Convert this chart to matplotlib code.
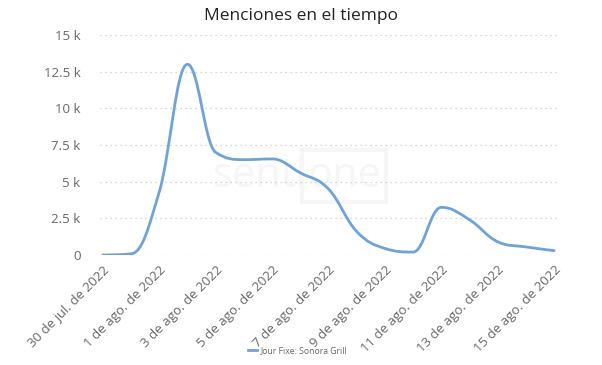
import numpy as np
import matplotlib
matplotlib.use('Agg')
import matplotlib.pyplot as plt
from matplotlib.path import Path
from matplotlib.patches import PathPatch
from matplotlib.lines import Line2D

plt.rcParams['font.family'] = ['Open Sans', 'DejaVu Sans']

# datos diarios (30 jul - 15 ago 2022)
dias = ['30 de jul. de 2022', '31 de jul. de 2022', '1 de ago. de 2022', '2 de ago. de 2022',
        '3 de ago. de 2022', '4 de ago. de 2022', '5 de ago. de 2022', '6 de ago. de 2022',
        '7 de ago. de 2022', '8 de ago. de 2022', '9 de ago. de 2022', '10 de ago. de 2022',
        '11 de ago. de 2022', '12 de ago. de 2022', '13 de ago. de 2022', '14 de ago. de 2022',
        '15 de ago. de 2022']
menciones = [0, 80, 4300, 13000, 7000, 6500, 6550, 5600, 4500, 1600, 450, 200, 3250, 2400, 900, 550, 300]
serie = 'Jour Fixe: Sonora Grill'
y_ticks = [0, 2500, 5000, 7500, 10000, 12500, 15000]
y_labels = ['0', '2.5 k', '5 k', '7.5 k', '10 k', '12.5 k', '15 k']

color_linea = '#6fa3d8'


def spline_path(xs, ys, smoothing=1.5):
    """curva tipo spline (bezier) que pasa por cada punto"""
    n = len(xs)
    denom = smoothing + 1
    left = [None] * n
    right = [None] * n
    for i in range(n):
        if i == 0 or i == n - 1:
            left[i] = (xs[i], ys[i])
            right[i] = (xs[i], ys[i])
            continue
        px, py = xs[i], ys[i]
        lx, ly = xs[i - 1], ys[i - 1]
        nx, ny = xs[i + 1], ys[i + 1]
        lcx = (smoothing * px + lx) / denom
        lcy = (smoothing * py + ly) / denom
        rcx = (smoothing * px + nx) / denom
        rcy = (smoothing * py + ny) / denom
        corr = (rcy - lcy) * (rcx - px) / (rcx - lcx) + py - rcy
        lcy += corr
        rcy += corr
        if lcy > ly and lcy > py:
            lcy = max(ly, py)
            rcy = 2 * py - lcy
        elif lcy < ly and lcy < py:
            lcy = min(ly, py)
            rcy = 2 * py - lcy
        if rcy > ny and rcy > py:
            rcy = max(ny, py)
            lcy = 2 * py - rcy
        elif rcy < ny and rcy < py:
            rcy = min(ny, py)
            lcy = 2 * py - rcy
        left[i] = (lcx, lcy)
        right[i] = (rcx, rcy)
    verts = [(xs[0], ys[0])]
    codes = [Path.MOVETO]
    for i in range(1, n):
        verts += [right[i - 1], left[i], (xs[i], ys[i])]
        codes += [Path.CURVE4] * 3
    return Path(verts, codes)


fig = plt.figure(figsize=(6.02, 3.65), dpi=100)
ax = fig.add_axes([100 / 602, 110 / 365, 457 / 602, 220 / 365])

x = np.arange(len(menciones))

# marca de agua
ax.text(0.35, 0.36, 'senti', transform=ax.transAxes, fontsize=30, color='#f6f6f6',
        ha='center', va='center', zorder=0)
ax.text(0.535, 0.36, 'one', transform=ax.transAxes, fontsize=30, color='#f6f6f6',
        ha='center', va='center', zorder=0,
        bbox=dict(boxstyle='square,pad=0.12', fc='none', ec='#f6f6f6', lw=3))

ax.add_patch(PathPatch(spline_path(x, menciones), fc='none', ec=color_linea, lw=2,
                       capstyle='round', joinstyle='round', zorder=3))

ax.set_xlim(-0.1, len(menciones) - 0.9)
ax.set_ylim(0, 15000)
ax.set_yticks(y_ticks)
ax.set_yticklabels(y_labels)
ax.set_xticks(x[::2])
ax.set_xticklabels(dias[::2], rotation=45, ha='right', rotation_mode='anchor')

ax.grid(axis='y', linestyle=(0, (1, 3)), color='#c8c8c8', lw=0.9)
for s in ax.spines.values():
    s.set_visible(False)
ax.tick_params(axis='both', length=0, colors='#666666', labelsize=9.5)
ax.tick_params(axis='y', pad=14)
ax.tick_params(axis='x', pad=6)

fig.text(0.5, 0.955, 'Menciones en el tiempo', ha='center', va='center', fontsize=12.5,
         color='#222222')

leg = fig.legend(handles=[Line2D([], [], color=color_linea, lw=2)], labels=[serie],
                 loc='center', bbox_to_anchor=(0.495, 0.04), frameon=False, fontsize=6.2,
                 handlelength=1.0, handletextpad=0.5)
for t in leg.get_texts():
    t.set_color('#666666')

fig.savefig('out.png', dpi=100)
